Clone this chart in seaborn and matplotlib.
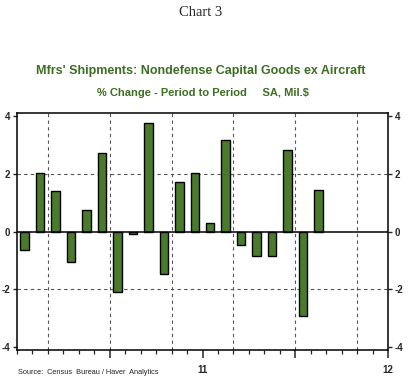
import matplotlib
matplotlib.use("Agg")
import matplotlib.pyplot as plt
import seaborn as sns
import pandas as pd
import numpy as np

months = ["2010-01", "2010-02", "2010-03", "2010-04", "2010-05", "2010-06",
          "2010-07", "2010-08", "2010-09", "2010-10", "2010-11", "2010-12",
          "2011-01", "2011-02", "2011-03", "2011-04", "2011-05", "2011-06",
          "2011-07", "2011-08"]
pct_change = [-0.65, 2.04, 1.42, -1.06, 0.75, 2.73, -2.10, -0.09, 3.77, -1.47,
              1.72, 2.04, 0.30, 3.19, -0.46, -0.85, -0.85, 2.84, -2.93, 1.45]
year_labels = ["", "11", "", "12"]
y_ticks = [-4, -2, 0, 2, 4]

GREEN = "#4a7a2b"
TITLE_GREEN = "#3d6e22"

sns.set_style("white")
plt.rcParams["font.family"] = ["Liberation Sans", "DejaVu Sans"]

df = pd.DataFrame({"month": months, "pct": pct_change})

fig = plt.figure(figsize=(4.19, 3.85), dpi=100)
ax = fig.add_axes([17 / 419, 1 - 350 / 385, (388 - 17) / 419, (350 - 113) / 385])

sns.barplot(data=df, x="month", y="pct", order=months, color=GREEN,
            saturation=1, edgecolor="black", linewidth=1.0, width=0.55, ax=ax)

n_months = 24
ax.set_xlim(-0.5, n_months - 0.5)
ax.set_ylim(-4.12, 4.12)

# grid
for gx in [1.5, 5.5, 9.5, 13.5, 17.5, 21.5]:
    ax.axvline(gx, color="#555555", lw=0.8, ls=(0, (3, 3)), zorder=0)
for gy in [-2, 2]:
    ax.axhline(gy, color="#555555", lw=0.8, ls=(0, (3, 3)), zorder=0)
ax.axhline(0, color="black", lw=1.1, zorder=3)

for s in ax.spines.values():
    s.set_color("black")
    s.set_linewidth(1.1)
    s.set_visible(True)

# x ticks
ax.set_xticks([5.5, 11.5, 17.5, 23.5])
ax.set_xticklabels(year_labels, fontsize=7, fontweight="bold")
ax.set_xticks(np.arange(-0.5, n_months, 1.0), minor=True)
ax.tick_params(axis="x", which="major", direction="out", length=6, width=1.1,
               pad=5, bottom=True)
ax.tick_params(axis="x", which="minor", direction="out", length=3, width=0.9,
               bottom=True)
ax.set_xlabel("")
ax.set_ylabel("")

# y ticks both sides
ax.set_yticks(y_ticks)
ax.set_yticklabels([str(v) for v in y_ticks], fontsize=7, fontweight="bold")
ax.tick_params(axis="y", which="major", direction="out", length=3, width=1.0,
               pad=2, left=True, right=True, labelleft=True, labelright=True)

fig.text(0.48, 1 - 12 / 385, "Chart 3", ha="center", va="center",
         fontsize=10.5, family=["Liberation Serif", "DejaVu Serif"])
fig.text(201 / 419, 1 - 71 / 385, "Mfrs' Shipments: Nondefense Capital Goods ex Aircraft",
         ha="center", va="center", fontsize=9.0, fontweight="bold", color=TITLE_GREEN)
fig.text(203 / 419, 1 - 93 / 385, "% Change - Period to Period     SA, Mil.$",
         ha="center", va="center", fontsize=8.0, fontweight="bold", color=TITLE_GREEN)
fig.text(18 / 419, 1 - 373 / 385, "Source:  Census  Bureau / Haver  Analytics",
         ha="left", va="center", fontsize=5.3, color="#222222")

fig.savefig("out.png", dpi=100)
